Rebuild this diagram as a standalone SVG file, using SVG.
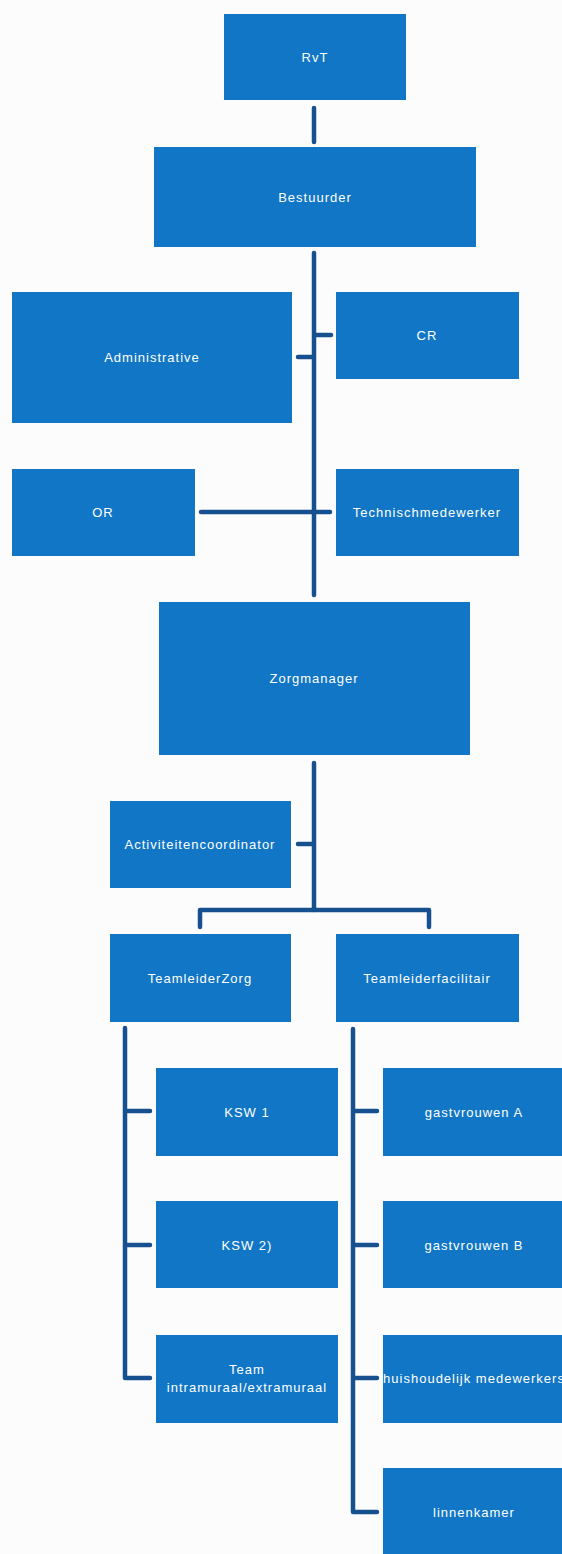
<svg xmlns="http://www.w3.org/2000/svg" width="562" height="1554" viewBox="0 0 562 1554">
<style>
.box{fill:#1276c6;}
.t{fill:#ffffff;font-family:"Liberation Sans",Arial,sans-serif;font-size:13px;letter-spacing:1px;text-anchor:middle;dominant-baseline:central;}
.c{fill:none;stroke:#17508f;stroke-width:4.5;stroke-linecap:round;stroke-linejoin:round;}
</style>
<rect width="562" height="1554" fill="#fcfcfc"/>
<g id="connectors">
<path class="c" d="M314 108V142"/>
<path class="c" d="M314 253V595"/>
<path class="c" d="M315 335H331"/>
<path class="c" d="M298 357H313"/>
<path class="c" d="M201 512H330"/>
<path class="c" d="M314 763V910"/>
<path class="c" d="M298 844H313"/>
<path class="c" d="M200 927V910H429V927"/>
<path class="c" d="M125 1028V1378H150"/>
<path class="c" d="M126 1111H150"/>
<path class="c" d="M126 1245H150"/>
<path class="c" d="M353 1029V1512H377"/>
<path class="c" d="M354 1111H377"/>
<path class="c" d="M354 1245H377"/>
<path class="c" d="M354 1378H377"/>
</g>
<g id="rvt"><rect class="box" x="224" y="14" width="182" height="86"/><text class="t" x="315" y="57">RvT</text></g>
<g id="bestuurder"><rect class="box" x="154" y="147" width="322" height="100"/><text class="t" x="315" y="197">Bestuurder</text></g>
<g id="administratie"><rect class="box" x="12" y="292" width="280" height="131"/><text class="t" x="152" y="357">Administrative</text></g>
<g id="cr"><rect class="box" x="336" y="292" width="183" height="87"/><text class="t" x="427" y="335">CR</text></g>
<g id="or"><rect class="box" x="12" y="469" width="183" height="87"/><text class="t" x="103" y="512">OR</text></g>
<g id="technisch"><rect class="box" x="336" y="469" width="183" height="87"/><text class="t" x="427" y="512">Technischmedewerker</text></g>
<g id="zorgmanager"><rect class="box" x="159" y="602" width="311" height="153"/><text class="t" x="314" y="678">Zorgmanager</text></g>
<g id="activiteiten"><rect class="box" x="110" y="801" width="181" height="87"/><text class="t" x="200" y="844">Activiteitencoordinator</text></g>
<g id="tl-zorg"><rect class="box" x="110" y="934" width="181" height="88"/><text class="t" x="200" y="978">TeamleiderZorg</text></g>
<g id="tl-facilitair"><rect class="box" x="336" y="934" width="183" height="88"/><text class="t" x="427" y="978">Teamleiderfacilitair</text></g>
<g id="ksw1"><rect class="box" x="156" y="1068" width="182" height="88"/><text class="t" x="247" y="1112">KSW 1</text></g>
<g id="ksw2"><rect class="box" x="156" y="1201" width="182" height="87"/><text class="t" x="247" y="1245">KSW 2)</text></g>
<g id="team"><rect class="box" x="156" y="1335" width="182" height="88"/><text class="t" x="247" y="1369">Team</text><text class="t" x="247" y="1387">intramuraal/extramuraal</text></g>
<g id="gastA"><rect class="box" x="383" y="1068" width="183" height="88"/><text class="t" x="474" y="1112">gastvrouwen A</text></g>
<g id="gastB"><rect class="box" x="383" y="1201" width="183" height="87"/><text class="t" x="474" y="1245">gastvrouwen B</text></g>
<g id="huish"><rect class="box" x="383" y="1335" width="183" height="88"/><text class="t" x="474" y="1378">huishoudelijk medewerkers</text></g>
<g id="linnen"><rect class="box" x="383" y="1468" width="183" height="88"/><text class="t" x="474" y="1512">linnenkamer</text></g>
</svg>
